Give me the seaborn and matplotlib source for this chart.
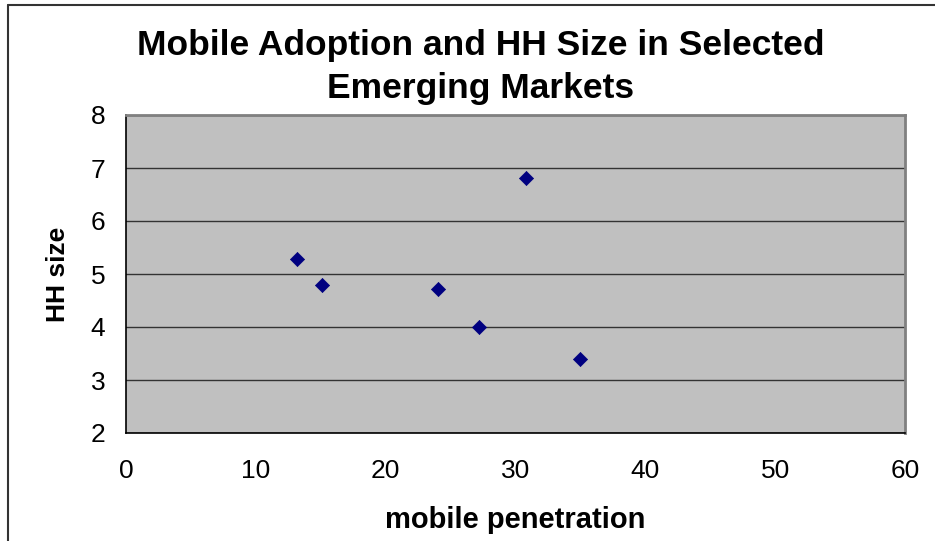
import matplotlib
matplotlib.use("Agg")
import matplotlib.pyplot as plt
import seaborn as sns
import pandas as pd
from matplotlib.lines import Line2D

mobile_penetration = [13.2, 15.1, 24.0, 27.2, 30.8, 35.0]
hh_size = [5.29, 4.80, 4.72, 4.00, 6.81, 3.40]
x_ticks = [0, 10, 20, 30, 40, 50, 60]
y_ticks = [2, 3, 4, 5, 6, 7, 8]

df = pd.DataFrame({"mobile penetration": mobile_penetration, "HH size": hh_size})

sns.set_theme(style="white")
plt.rcParams["font.family"] = ["Liberation Sans", "DejaVu Sans"]
plt.rcParams["text.color"] = "black"
plt.rcParams["axes.labelcolor"] = "black"

fig = plt.figure(figsize=(9.35, 5.41), dpi=100)
ax = fig.add_axes([126/935, 1-433/541, (905-126)/935, (433-115)/541])
ax.set_facecolor("#C0C0C0")

sns.scatterplot(data=df, x="mobile penetration", y="HH size", ax=ax,
                marker="D", color="#000080", edgecolor="#000080", s=52,
                linewidth=0.5, zorder=3)

ax.set_xlim(0, 60)
ax.set_ylim(2, 8)
ax.set_xticks(x_ticks)
ax.set_yticks(y_ticks)
ax.yaxis.grid(True, color="#333333", linewidth=1.0)
ax.xaxis.grid(False)
ax.set_axisbelow(True)

ax.tick_params(axis="both", which="major", direction="out", length=5,
               width=1, color="black", labelsize=19, labelcolor="black")
ax.tick_params(axis="y", pad=10)
ax.tick_params(axis="x", pad=14)
for side in ["left", "bottom"]:
    ax.spines[side].set_color("black")
    ax.spines[side].set_linewidth(1.2)
for side in ["top", "right"]:
    ax.spines[side].set_color("#808080")
    ax.spines[side].set_linewidth(2)

ax.set_xlabel("mobile penetration", fontsize=21, fontweight="bold", labelpad=16)
ax.set_ylabel("HH size", fontsize=19, fontweight="bold", labelpad=15)

fig.text(481/935, 1-67/541, "Mobile Adoption and HH Size in Selected\nEmerging Markets",
         ha="center", va="center", fontsize=25.5, fontweight="bold", linespacing=1.42)

# outer chart border (left and top edges visible)
fig.add_artist(Line2D([8/935, 8/935], [0, 1-5/541], transform=fig.transFigure,
                      color="#333333", linewidth=1.5))
fig.add_artist(Line2D([8/935, 1], [1-5/541, 1-5/541], transform=fig.transFigure,
                      color="#333333", linewidth=1.5))

fig.savefig("out.png", dpi=100)
